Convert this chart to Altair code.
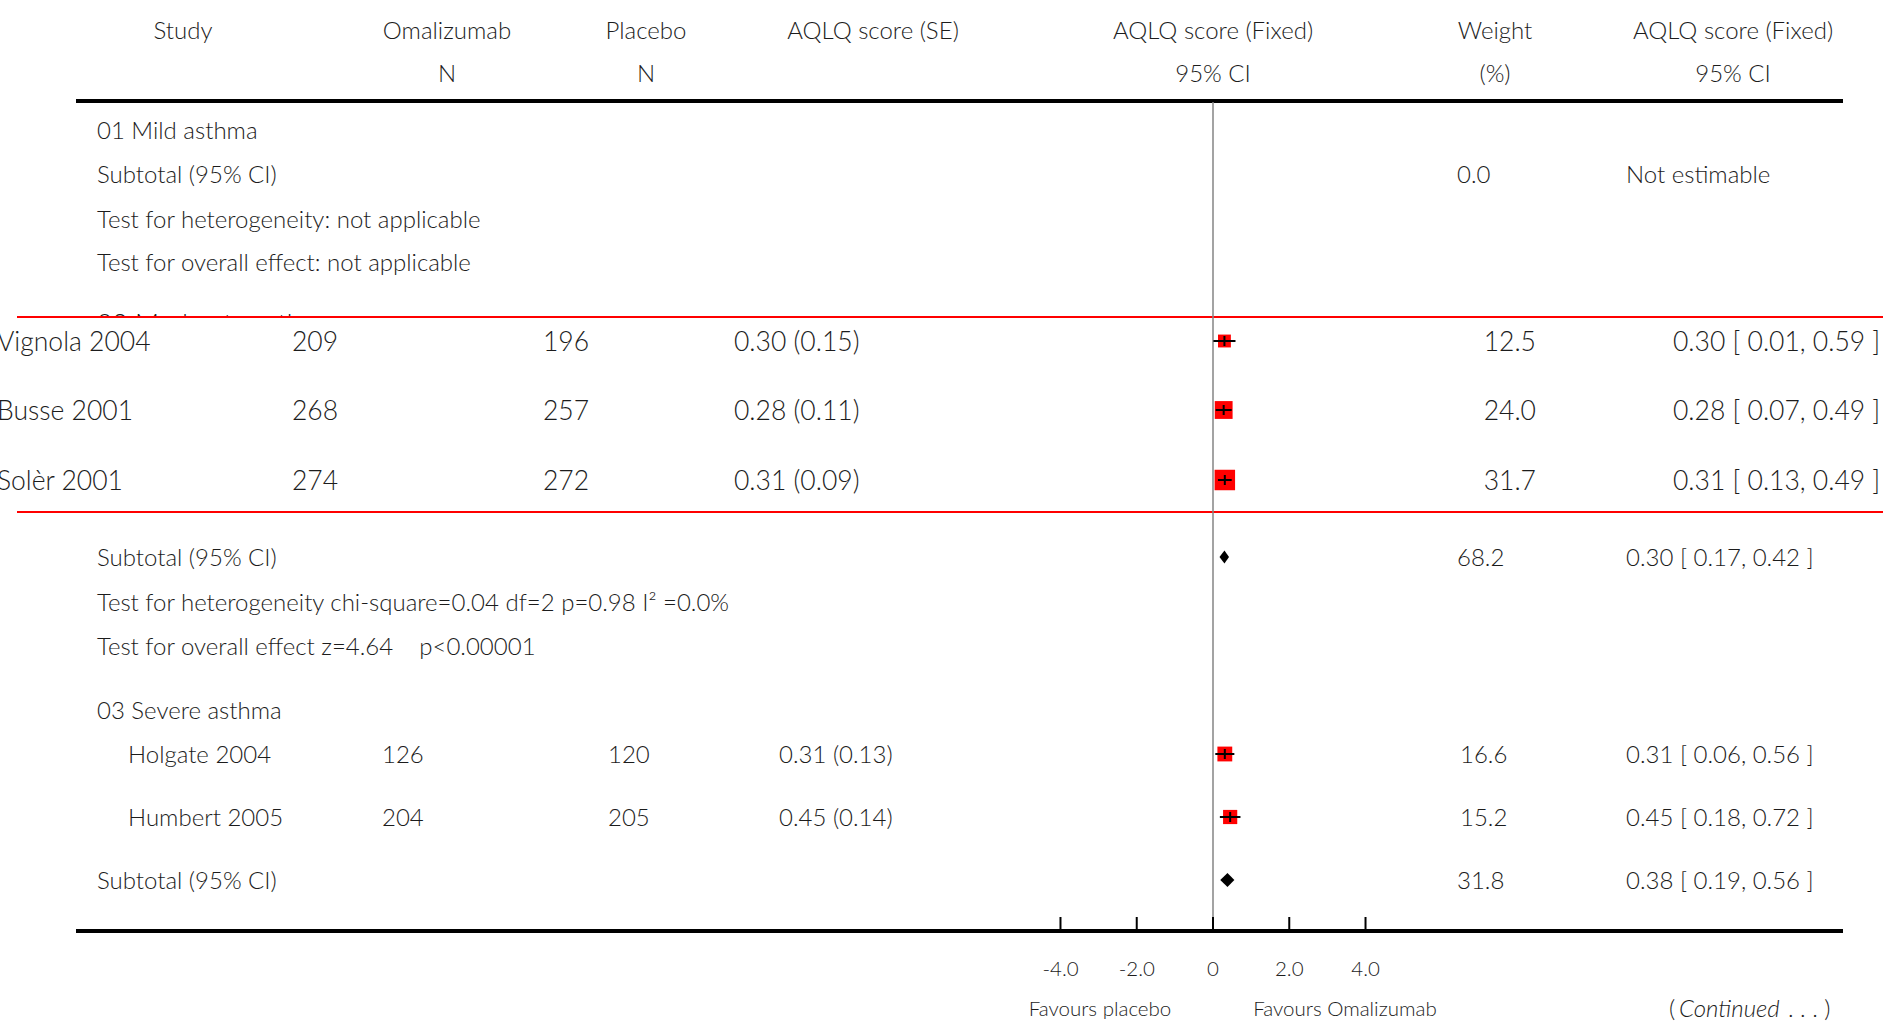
import altair as alt
import pandas as pd

# ---------------- data ----------------
studies = ["Vignola 2004", "Busse 2001", "Solèr 2001", "Holgate 2004", "Humbert 2005"]
groups = ["02", "02", "02", "03", "03"]
n_omal = [209, 268, 274, 126, 204]
n_plac = [196, 257, 272, 120, 205]
est = [0.30, 0.28, 0.31, 0.31, 0.45]
se = [0.15, 0.11, 0.09, 0.13, 0.14]
ci_lo = [0.01, 0.07, 0.13, 0.06, 0.18]
ci_hi = [0.59, 0.49, 0.49, 0.56, 0.72]
weights = [12.5, 24.0, 31.7, 16.6, 15.2]

sub_est = [0.30, 0.38]
sub_lo = [0.17, 0.19]
sub_hi = [0.42, 0.56]
sub_w = [68.2, 31.8]

tick_vals = [-4, -2, 0, 2, 4]
tick_labels = ["-4.0", "-2.0", "0", "2.0", "4.0"]

# ---------------- layout ----------------
W, H = 1883, 1023
X0_PX = 1213.0
PX_PER_UNIT = 38.13
XDOM = [-X0_PX / PX_PER_UNIT, (W - X0_PX) / PX_PER_UNIT]
xscale = alt.Scale(domain=XDOM, range=[0, W], nice=False, zero=False)
yscale = alt.Scale(domain=[0, H], range=[0, H], nice=False, zero=False)

FONT = "Lato"
FW = 300
TXT = "#1c1c1c"
BASE = 24
BIG = 26.5
SMALL = 20.5
DY = 1.5  # baseline correction for text rows

study_y = [341, 410, 480, 754, 817]
sub_y = [557, 880]

one = pd.DataFrame({"z": [0]})
layers = []


def Y(field):
    return alt.Y(field, scale=yscale, axis=None)


def X(field):
    return alt.X(field, scale=xscale, axis=None)


def text_layer(rows, x, align="left", size=BASE, style="normal"):
    df = pd.DataFrame({"y": [r[0] + DY for r in rows], "t": [r[1] for r in rows]})
    return alt.Chart(df).mark_text(
        align=align, baseline="middle", font=FONT, fontSize=size,
        fontStyle=style, fontWeight=FW, color=TXT
    ).encode(x=alt.value(x), y=Y("y:Q"), text="t:N")


# hidden row under the highlight box
layers.append(text_layer([(324, "02 Moderate asthma")], 97, size=BIG))
layers.append(alt.Chart(one).mark_rect(color="white").encode(
    x=alt.value(17), x2=alt.value(W), y=alt.value(318), y2=alt.value(511)))

# red highlight lines
for yy in [317, 512]:
    layers.append(alt.Chart(one).mark_rule(color="#ff0000", strokeWidth=2).encode(
        x=alt.value(17), x2=alt.value(W), y=alt.value(yy)))

# thick black header / footer lines
for yy in [101, 931]:
    layers.append(alt.Chart(one).mark_rule(color="black", strokeWidth=4).encode(
        x=alt.value(76), x2=alt.value(1843), y=alt.value(yy)))

# zero line
layers.append(alt.Chart(one).mark_rule(color="#858585", strokeWidth=1.5).encode(
    x=X("z:Q"), y=alt.value(102), y2=alt.value(931)))

# headers
headers = [
    ("Study", 183, 30), ("Omalizumab", 447, 30), ("Placebo", 646, 30),
    ("AQLQ score (SE)", 873, 30), ("AQLQ score (Fixed)", 1213, 30),
    ("Weight", 1495, 30), ("AQLQ score (Fixed)", 1733, 30),
    ("N", 447, 73), ("N", 646, 73), ("95% CI", 1213, 73),
    ("(%)", 1495, 73), ("95% CI", 1733, 73),
]
for t, x, y in headers:
    layers.append(text_layer([(y, t)], x, align="center"))

# left column labels
left_rows = [
    (130, "01 Mild asthma"),
    (174, "Subtotal (95% CI)"),
    (219, "Test for heterogeneity: not applicable"),
    (262, "Test for overall effect: not applicable"),
    (557, "Subtotal (95% CI)"),
    (602, "Test for heterogeneity chi-square=0.04 df=2 p=0.98 I\u00b2 =0.0%"),
    (646, "Test for overall effect z=4.64\u00a0\u00a0\u00a0\u00a0p<0.00001"),
    (710, "03 Severe asthma"),
    (880, "Subtotal (95% CI)"),
]
layers.append(text_layer(left_rows, 97))


def fmt2(v):
    return f"{v:.2f}"


box = [i for i in range(5) if groups[i] == "02"]
sev = [i for i in range(5) if groups[i] == "03"]


def rows_for(idx, f):
    return [(study_y[i], f(i)) for i in idx]


# highlighted (box) rows – slightly larger type
layers.append(text_layer(rows_for(box, lambda i: studies[i]), -3, size=BIG))
layers.append(text_layer(rows_for(box, lambda i: str(n_omal[i])), 292, size=BIG))
layers.append(text_layer(rows_for(box, lambda i: str(n_plac[i])), 543, size=BIG))
layers.append(text_layer(rows_for(box, lambda i: f"{fmt2(est[i])} ({fmt2(se[i])})"), 734, size=BIG))
layers.append(text_layer(rows_for(box, lambda i: f"{weights[i]:.1f}"), 1536, align="right", size=BIG))
layers.append(text_layer(rows_for(box, lambda i: f"{fmt2(est[i])} [ {fmt2(ci_lo[i])}, {fmt2(ci_hi[i])} ]"), 1673, size=BIG))

# severe asthma rows
layers.append(text_layer(rows_for(sev, lambda i: studies[i]), 128))
layers.append(text_layer(rows_for(sev, lambda i: str(n_omal[i])), 382))
layers.append(text_layer(rows_for(sev, lambda i: str(n_plac[i])), 608))
layers.append(text_layer(rows_for(sev, lambda i: f"{fmt2(est[i])} ({fmt2(se[i])})"), 779))
layers.append(text_layer(rows_for(sev, lambda i: f"{weights[i]:.1f}"), 1460))
layers.append(text_layer(rows_for(sev, lambda i: f"{fmt2(est[i])} [ {fmt2(ci_lo[i])}, {fmt2(ci_hi[i])} ]"), 1626))

# subtotal weights / CIs
sub_w_rows = [(174, "0.0")] + [(sub_y[j], f"{sub_w[j]:.1f}") for j in range(2)]
sub_ci_rows = [(174, "Not estimable")] + [
    (sub_y[j], f"{fmt2(sub_est[j])} [ {fmt2(sub_lo[j])}, {fmt2(sub_hi[j])} ]") for j in range(2)]
layers.append(text_layer(sub_w_rows, 1457))
layers.append(text_layer(sub_ci_rows, 1626))

# ---------------- forest marks ----------------
fdf = pd.DataFrame({
    "est": est, "lo": ci_lo, "hi": ci_hi, "w": weights,
    "y": study_y,
    "yt": [v - 5 for v in study_y], "yb": [v + 5 for v in study_y],
})
layers.append(alt.Chart(fdf).mark_square(color="#ff0000", opacity=1, filled=True).encode(
    x=X("est:Q"), y=Y("y:Q"),
    size=alt.Size("w:Q", scale=alt.Scale(domain=[0, 31.7], range=[0, 420]), legend=None),
))
layers.append(alt.Chart(fdf).mark_rule(color="black", strokeWidth=2).encode(
    x=X("lo:Q"), x2="hi:Q", y=Y("y:Q")))
layers.append(alt.Chart(fdf).mark_rule(color="black", strokeWidth=2).encode(
    x=X("est:Q"), y=Y("yt:Q"), y2="yb:Q"))

# diamonds
drows = []
for j in range(2):
    h = 6.5 if j == 0 else 7
    yc = sub_y[j]
    drows += [
        {"id": j, "x": sub_lo[j], "y1": yc, "y2": yc},
        {"id": j, "x": sub_est[j], "y1": yc - h, "y2": yc + h},
        {"id": j, "x": sub_hi[j], "y1": yc, "y2": yc},
    ]
ddf = pd.DataFrame(drows)
layers.append(alt.Chart(ddf).mark_area(color="black", opacity=1).encode(
    x=X("x:Q"), y=Y("y1:Q"), y2="y2:Q", detail="id:N"))

# axis ticks + labels
tdf = pd.DataFrame({"v": tick_vals, "lab": tick_labels})
layers.append(alt.Chart(tdf).mark_rule(color="black", strokeWidth=2).encode(
    x=X("v:Q"), y=alt.value(917), y2=alt.value(931)))
layers.append(alt.Chart(tdf).mark_text(
    align="center", baseline="middle", font=FONT, fontSize=SMALL, fontWeight=FW,
    color=TXT).encode(
    x=X("v:Q"), y=alt.value(968 + DY), text="lab:N"))

layers.append(text_layer([(1008, "Favours placebo")], 1100, align="center", size=SMALL))
layers.append(text_layer([(1008, "Favours Omalizumab")], 1345, align="center", size=SMALL))
layers.append(text_layer([(1008, "(")], 1669, size=BASE))
layers.append(text_layer([(1008, "Continued")], 1679, size=BASE, style="italic"))
layers.append(text_layer([(1008, ". . . )")], 1788, size=BASE))

chart = alt.layer(*layers).properties(
    width=W, height=H,
    autosize=alt.AutoSizeParams(type="none"),
    padding=0,
    background="white",
).configure_view(stroke=None)

chart.save("out.html", embed_options={"renderer": "svg", "actions": False})
